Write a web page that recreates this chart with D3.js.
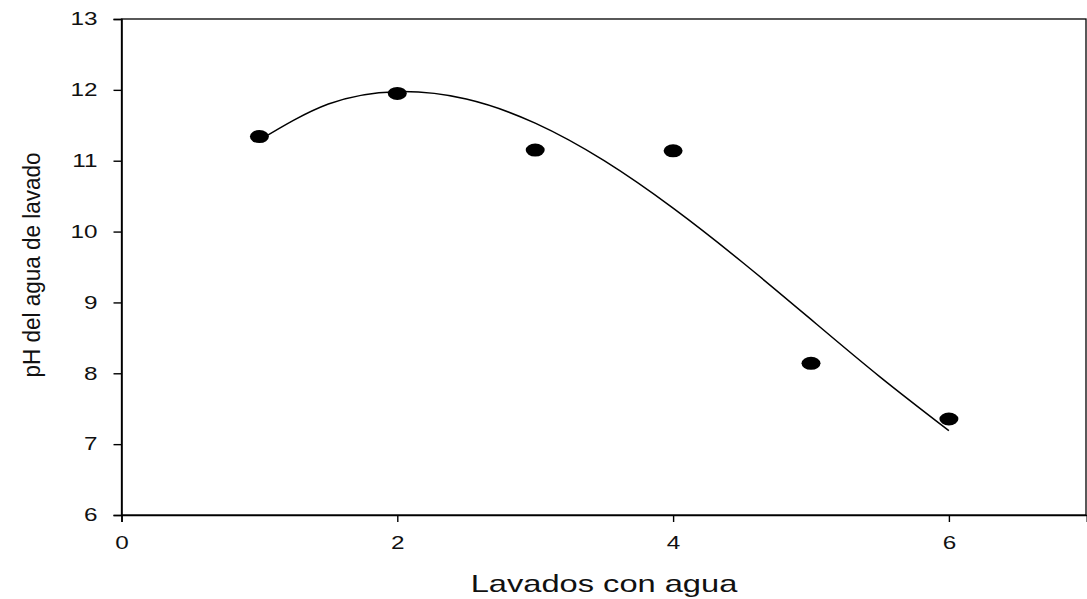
<!DOCTYPE html>
<html>
<head>
<meta charset="utf-8">
<script src="https://cdn.jsdelivr.net/npm/d3@7/dist/d3.min.js"></script>
<style>
  html, body { margin: 0; padding: 0; background: #fff; }
  svg { display: block; font-family: "Liberation Sans", Arial, sans-serif; }
</style>
</head>
<body>
<svg id="chart" width="1087" height="599"></svg>
<script>
// Data
const washes = [1, 2, 3, 4, 5, 6];
const phValues = [11.34, 11.95, 11.15, 11.14, 8.14, 7.355];
// Fitted curve
const fitX = [1, 1.5, 2, 2.5, 3, 3.5, 4, 4.5, 5, 5.5, 6];
const fitY = [11.29, 11.80, 11.975, 11.87, 11.53, 11.00, 10.33, 9.57, 8.76, 7.95, 7.19];
const xTicks = [0, 2, 4, 6];
const yTicks = [6, 7, 8, 9, 10, 11, 12, 13];
const xLabel = "Lavados con agua";
const yLabel = "pH del agua de lavado";

(function () {
const svg = d3.select("#chart");
const mLeft = 121.5, mRight = 1086, mTop = 19, mBottom = 515;
const stretch = 1.35;

const x = d3.scaleLinear().domain([0, 7]).range([mLeft, mLeft + 7 * 137.9]);
const y = d3.scaleLinear().domain([6, 13]).range([mBottom, mTop]);

// frame
svg.append("rect")
  .attr("x", mLeft).attr("y", mTop)
  .attr("width", mRight - mLeft).attr("height", mBottom - mTop)
  .attr("fill", "none").attr("stroke", "#000").attr("stroke-width", 1.3);

// axes
const xAxis = svg.append("g").attr("transform", `translate(0,${mBottom})`)
  .call(d3.axisBottom(x).tickValues(xTicks).tickSize(7).tickFormat(d3.format("d")));
const yAxis = svg.append("g").attr("transform", `translate(${mLeft},0)`)
  .call(d3.axisLeft(y).tickValues(yTicks).tickSize(8).tickFormat(d3.format("d")));
[xAxis, yAxis].forEach(g => {
  g.select(".domain").attr("stroke", "#000").attr("stroke-width", 1.6);
  g.selectAll(".tick line").attr("stroke", "#000").attr("stroke-width", 1.4);
  g.selectAll(".tick text").attr("fill", "#111").style("font-size", "18px")
    .style("font-family", "'Liberation Sans', Arial, sans-serif");
});
xAxis.selectAll(".tick text").attr("y", 0)
  .attr("transform", `translate(0,21) scale(${stretch},1)`);
yAxis.selectAll(".tick text").attr("x", 0)
  .attr("transform", `translate(-24,0) scale(${stretch},1)`);

// fitted line
const line = d3.line().x((d, i) => x(fitX[i])).y(d => y(d)).curve(d3.curveNatural);
svg.append("path").datum(fitY)
  .attr("d", line).attr("fill", "none").attr("stroke", "#000").attr("stroke-width", 1.5);

// points
svg.selectAll("ellipse.pt").data(washes).enter().append("ellipse")
  .attr("class", "pt")
  .attr("cx", d => x(d)).attr("cy", (d, i) => y(phValues[i]))
  .attr("rx", 9.5).attr("ry", 6.5).attr("fill", "#000");

// axis titles
svg.append("text")
  .attr("transform", `translate(604,592) scale(1.36,1)`)
  .attr("text-anchor", "middle").style("font-size", "24px").attr("fill", "#111")
  .text(xLabel);
svg.append("text")
  .attr("transform", "translate(40,265) rotate(-90) scale(1,1.1)")
  .attr("text-anchor", "middle").style("font-size", "22.5px").attr("fill", "#111")
  .text(yLabel);
})();
</script>
</body>
</html>
